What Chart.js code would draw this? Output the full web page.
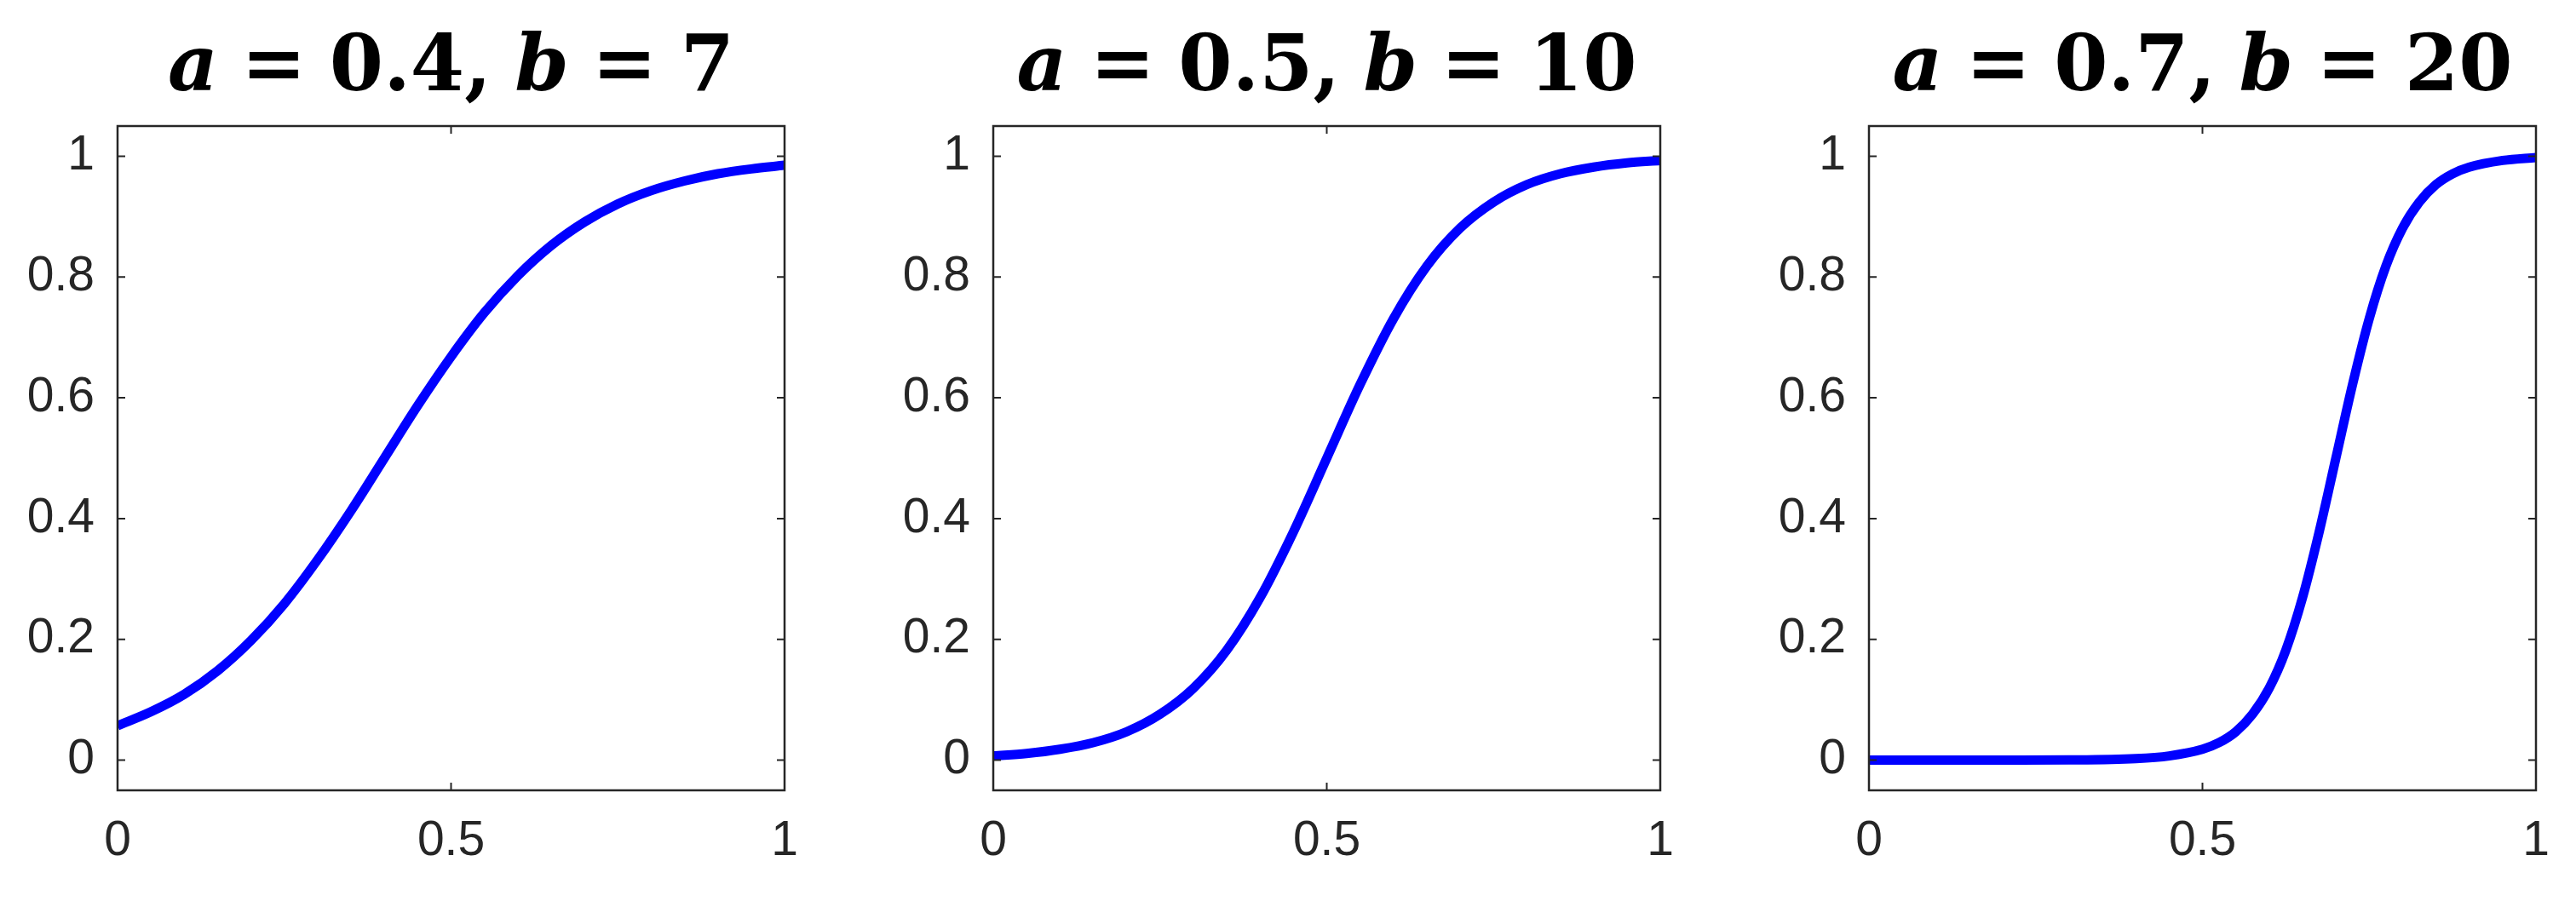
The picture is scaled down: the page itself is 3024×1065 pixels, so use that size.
<!DOCTYPE html>
<html>
<head>
<meta charset="utf-8">
<script src="https://cdn.jsdelivr.net/npm/chart.js@4.4.1/dist/chart.umd.min.js"></script>
<style>
  html, body { margin: 0; padding: 0; background: #fff; }
  #wrap { position: relative; width: 3024px; height: 1065px; }
  .panel { position: absolute; top: 0; width: 1028px; height: 1065px; }
</style>
</head>
<body>
<div id="wrap">
  <div class="panel" style="left:0px"><canvas id="c0" width="1028" height="1065"></canvas></div>
  <div class="panel" style="left:1028px"><canvas id="c1" width="1028" height="1065"></canvas></div>
  <div class="panel" style="left:2056px"><canvas id="c2" width="1028" height="1065"></canvas></div>
</div>
<script>
// valeurs (3 panneaux)
const titleA = ['0.4', '0.5', '0.7'];
const titleB = ['7', '10', '20'];

const xTicks = [0, 0.5, 1];
const yTicks = [0, 0.2, 0.4, 0.6, 0.8, 1];

// panneau 1 : a = 0.4, b = 7
const x1 = [0, 0.05, 0.1, 0.15, 0.2, 0.25, 0.3, 0.35, 0.4, 0.45, 0.5, 0.55, 0.6, 0.65, 0.7, 0.75, 0.8, 0.85, 0.9, 0.95, 1];
const y1 = [0.057, 0.080, 0.109, 0.148, 0.198, 0.259, 0.332, 0.413, 0.500, 0.587, 0.668, 0.741, 0.802, 0.852, 0.891, 0.921, 0.943, 0.959, 0.971, 0.979, 0.985];

// panneau 2 : a = 0.5, b = 10
const x2 = [0, 0.05, 0.1, 0.15, 0.2, 0.25, 0.3, 0.35, 0.4, 0.45, 0.5, 0.55, 0.6, 0.65, 0.7, 0.75, 0.8, 0.85, 0.9, 0.95, 1];
const y2 = [0.007, 0.011, 0.018, 0.029, 0.047, 0.076, 0.119, 0.182, 0.269, 0.378, 0.500, 0.622, 0.731, 0.818, 0.881, 0.924, 0.953, 0.971, 0.982, 0.989, 0.993];

// panneau 3 : a = 0.7, b = 20
const x3 = [0, 0.1, 0.2, 0.3, 0.4, 0.45, 0.5, 0.525, 0.55, 0.575, 0.6, 0.625, 0.65, 0.675, 0.7, 0.725, 0.75, 0.775, 0.8, 0.825, 0.85, 0.875, 0.9, 0.95, 1];
const y3 = [0, 0, 0, 0.0003, 0.0025, 0.007, 0.018, 0.029, 0.047, 0.076, 0.119, 0.182, 0.269, 0.378, 0.500, 0.622, 0.731, 0.818, 0.881, 0.924, 0.953, 0.971, 0.982, 0.993, 0.998];

const axisColor = '#262626';
const tickFont = { family: '"Liberation Sans", Arial, sans-serif', size: 57 };

// cadre, graduations vers l'intérieur et titre
const framePlugin = {
  id: 'frame',
  afterDraw(chart, args, opts) {
    const { ctx, chartArea: a, scales: { x, y } } = chart;
    ctx.save();
    ctx.strokeStyle = axisColor;
    ctx.lineWidth = 2.5;
    ctx.strokeRect(a.left, a.top, a.right - a.left, a.bottom - a.top);

    ctx.lineWidth = 2;
    ctx.beginPath();
    x.ticks.forEach(t => {
      const px = x.getPixelForValue(t.value);
      ctx.moveTo(px, a.bottom); ctx.lineTo(px, a.bottom - 9);
      ctx.moveTo(px, a.top); ctx.lineTo(px, a.top + 9);
    });
    y.ticks.forEach(t => {
      const py = y.getPixelForValue(t.value);
      ctx.moveTo(a.left, py); ctx.lineTo(a.left + 9, py);
      ctx.moveTo(a.right, py); ctx.lineTo(a.right - 9, py);
    });
    ctx.stroke();

    // titre : a = .., b = ..
    const size = 91;
    const upright = 'bold ' + size + 'px "DejaVu Serif", serif';
    const italic = 'italic bold ' + size + 'px "DejaVu Serif", serif';
    const gap = size * 0.3;
    const segs = [
      { t: 'a', f: italic }, { t: '=', f: upright }, { t: opts.a + ',', f: upright },
      { t: 'b', f: italic }, { t: '=', f: upright }, { t: opts.b, f: upright }
    ];
    let total = 0;
    segs.forEach(s => { ctx.font = s.f; s.w = ctx.measureText(s.t).width; total += s.w; });
    total += gap * (segs.length - 1);
    let cx = (a.left + a.right) / 2 - total / 2;
    ctx.fillStyle = '#000';
    ctx.textBaseline = 'alphabetic';
    ctx.textAlign = 'left';
    segs.forEach(s => {
      ctx.font = s.f;
      ctx.fillText(s.t, cx, 106);
      cx += s.w + gap;
    });
    ctx.restore();
  }
};

function makeChart(id, xs, ys, i) {
  const pts = xs.map((v, k) => ({ x: v, y: ys[k] }));
  return new Chart(document.getElementById(id), {
    type: 'line',
    data: {
      datasets: [{
        data: pts,
        borderColor: '#0000ff',
        borderWidth: 11,
        pointRadius: 0,
        fill: false,
        cubicInterpolationMode: 'monotone',
        clip: 0
      }]
    },
    options: {
      responsive: false,
      animation: false,
      layout: { padding: { top: 148, right: 107, bottom: 0, left: 0 } },
      plugins: {
        legend: { display: false },
        tooltip: { enabled: false },
        title: { display: false },
        frame: { a: titleA[i], b: titleB[i] }
      },
      scales: {
        x: {
          type: 'linear', min: 0, max: 1,
          afterFit: s => { s.height = 137; },
          afterBuildTicks: s => { s.ticks = xTicks.map(v => ({ value: v })); },
          grid: { display: false, drawTicks: false },
          border: { display: false },
          ticks: { padding: 26, color: axisColor, font: tickFont, maxRotation: 0, autoSkip: false,
                   callback: v => String(v) }
        },
        y: {
          type: 'linear', min: -0.05, max: 1.05,
          afterFit: s => { s.width = 138; },
          afterBuildTicks: s => { s.ticks = yTicks.map(v => ({ value: v })); },
          grid: { display: false, drawTicks: false },
          border: { display: false },
          ticks: { padding: 27, color: axisColor, font: tickFont, autoSkip: false,
                   callback: v => String(v) }
        }
      }
    },
    plugins: [framePlugin]
  });
}

makeChart('c0', x1, y1, 0);
makeChart('c1', x2, y2, 1);
makeChart('c2', x3, y3, 2);
</script>
</body>
</html>
